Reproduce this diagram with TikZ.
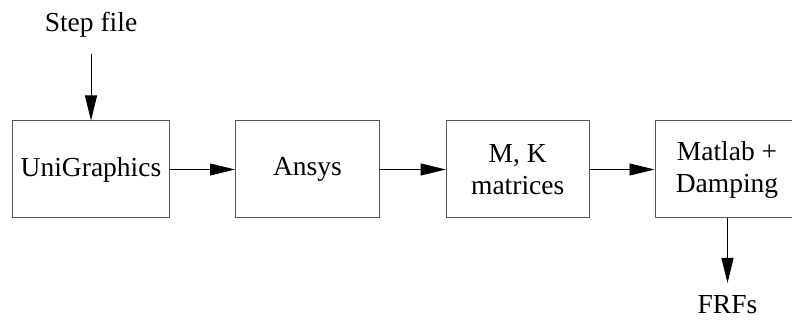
\documentclass[tikz,border=0pt]{standalone}
\usepackage{fontspec}
\setmainfont{Liberation Serif}
\usetikzlibrary{arrows.meta}

\tikzset{
  blockbox/.style={draw=black!65, line width=1pt, inner sep=0pt,
    minimum height=97pt, align=center},
  flow/.style={line width=0.8pt, -{Triangle[length=25pt,width=12pt]}}
}

\begin{document}
\begin{tikzpicture}[x=1pt,y=-1pt,font=\fontsize{27.5}{32}\selectfont]
\useasboundingbox (0,0) rectangle (792,320);
% blocks
\node[blockbox, minimum width=157pt] (ug) at (91,169.5) {UniGraphics};
\node[blockbox, minimum width=144pt] (ansys) at (307.5,169.5) {Ansys};
\node[blockbox, minimum width=143pt] (mk) at (517.7,169.5) {M, K\\matrices};
\node[blockbox, minimum width=144pt] (matlab) at (727,169.5) {Matlab +\\Damping};
% input and output
\node[anchor=base] (step) at (91,32) {Step file};
\node[anchor=base] (frf) at (727.5,313) {FRFs};
\coordinate (stepend) at (91,54);
\coordinate (frfend) at (727.5,283);
\draw[flow] (stepend) -- (ug.north);
\draw[flow] (ug) -- (ansys);
\draw[flow] (ansys) -- (mk);
\draw[flow] (mk) -- (matlab);
\draw[flow] (matlab.south -| frfend) -- (frfend);
\end{tikzpicture}
\end{document}
